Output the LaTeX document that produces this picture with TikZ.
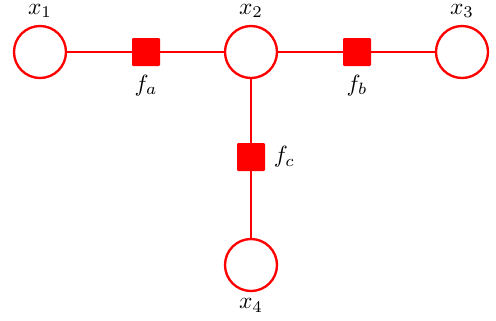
\documentclass[tikz,border=0pt]{standalone}
\usetikzlibrary{positioning}
\definecolor{fgred}{RGB}{255,0,0}

\begin{document}
\begin{tikzpicture}[x=0.015cm, y=-0.015cm,
    varnode/.style={circle, draw=fgred, line width=1pt, fill=white, minimum size=0.78cm, inner sep=0pt},
    factornode/.style={rectangle, fill=fgred, rounded corners=0.5pt, minimum size=0.42cm, inner sep=0pt},
    edge/.style={draw=fgred, line width=1pt},
    every label/.style={inner sep=1pt}]
    % Rahmen wie im Bild
    \useasboundingbox (0,0) rectangle (496,320);

    % Variablenknoten
    \node[varnode, label={[label distance=1.8pt]above:$x_1$}] (x1) at (40,52) {};
    \node[varnode, label={[label distance=1.8pt]above:$x_2$}] (x2) at (251,52) {};
    \node[varnode, label={[label distance=1.8pt]above:$x_3$}] (x3) at (462,52) {};
    \node[varnode, label={[label distance=1.5pt]below:$x_4$}] (x4) at (251,265) {};

    % Faktorknoten
    \node[factornode, label={[label distance=2.4pt]below:$f_a$}] (fa) at (146,52) {};
    \node[factornode, label={[label distance=2.4pt]below:$f_b$}] (fb) at (357,52) {};
    \node[factornode, label={[label distance=2.4pt]right:$f_c$}] (fc) at (251,157) {};

    % Kanten
    \draw[edge] (x1) -- (fa) -- (x2);
    \draw[edge] (x2) -- (fb) -- (x3);
    \draw[edge] (x2) -- (fc) -- (x4);
\end{tikzpicture}
\end{document}
